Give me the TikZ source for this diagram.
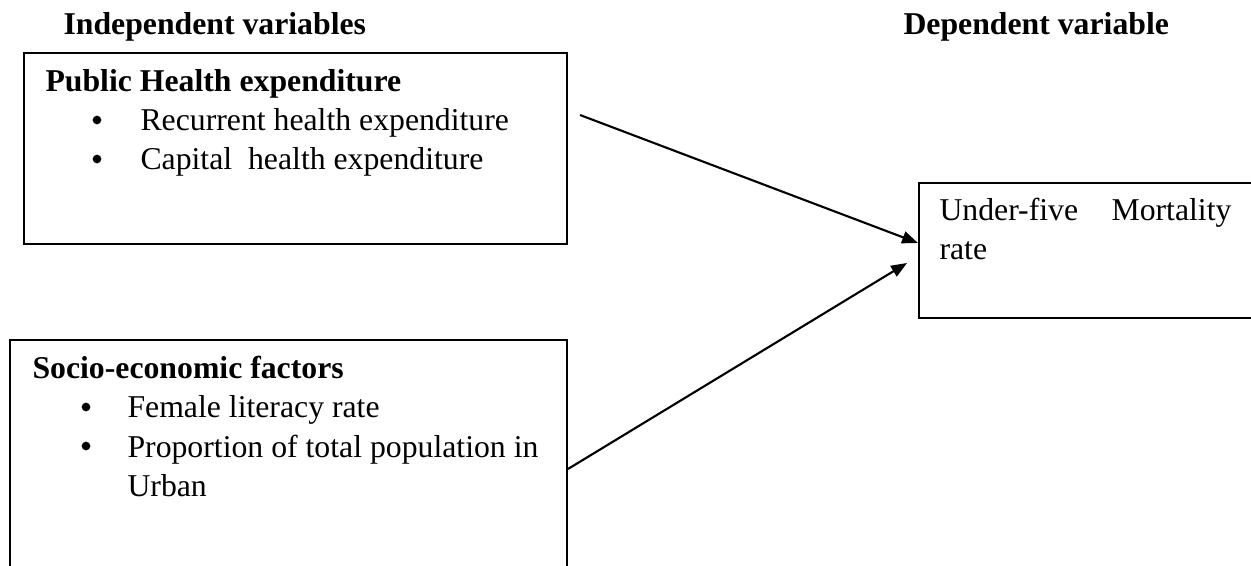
\documentclass[tikz,border=0pt]{standalone}
\usepackage{fontspec}
\setmainfont{Liberation Serif}
\usetikzlibrary{arrows.meta,calc}
\begin{document}
\begin{tikzpicture}[x=0.378pt,y=-0.378pt,
  box/.style={draw, line width=0.8pt, inner sep=0pt, anchor=north west},
  lbl/.style={anchor=base west, inner sep=0pt, font=\fontsize{12}{14}\selectfont},
  head/.style={anchor=base west, inner sep=0pt, font=\fontsize{12}{14}\selectfont\bfseries},
  bul/.style={circle, fill, inner sep=0pt, minimum size=3.3pt},
  conn/.style={-{Triangle[length=6pt,width=4.6pt]}, line width=0.8pt}]
\useasboundingbox (0,0) rectangle (1251,566);
\clip (0,0) rectangle (1251,566);
% headings
\node[head] (ind) at (63,35) {Independent variables};
\node[head] (dep) at (903,35) {Dependent variable};
% box 1
\node[box, minimum width=205.3pt, minimum height=72.2pt] (phe) at (23,52) {};
\node[head] (phet) at (45,92) {Public Health expenditure};
\node[bul] (b1) at (97,120) {};
\node[lbl] (r1) at (140,131) {Recurrent health expenditure};
\node[bul] (b2) at (97,159) {};
\node[lbl] (r2) at (140,170) {Capital\ \ health expenditure};
% box 2
\node[box, minimum width=210.5pt, minimum height=98.7pt] (se) at (9,339) {};
\node[head] (set) at (32,379) {Socio-economic factors};
\node[bul] (b3) at (86,407) {};
\node[lbl] (s1t) at (127,418) {Female literacy rate};
\node[bul] (b4) at (86,446) {};
\node[lbl] (s2t) at (127,457) {Proportion of total population in};
\node[lbl] (s3t) at (127,496) {Urban};
% box 3
\node[box, minimum width=144.4pt, minimum height=51.0pt] (dv) at (918,182) {};
\node[lbl] (u1) at (939,221) {Under-five};
\node[anchor=base east, inner sep=0pt, font=\fontsize{12}{14}\selectfont] (u2) at (1232,221) {Mortality};
\node[lbl] (u3) at (939,260) {rate};
% connectors
\coordinate (a1s) at (580,115);
\coordinate (a1e) at ($(dv.north west)+(0,61)$);
\coordinate (a2s) at ($(se.north east)+(0,130)$);
\coordinate (a2e) at (907,263);
\draw[conn] (a1s) -- (a1e);
\draw[conn] (a2s) -- (a2e);
\end{tikzpicture}
\end{document}
